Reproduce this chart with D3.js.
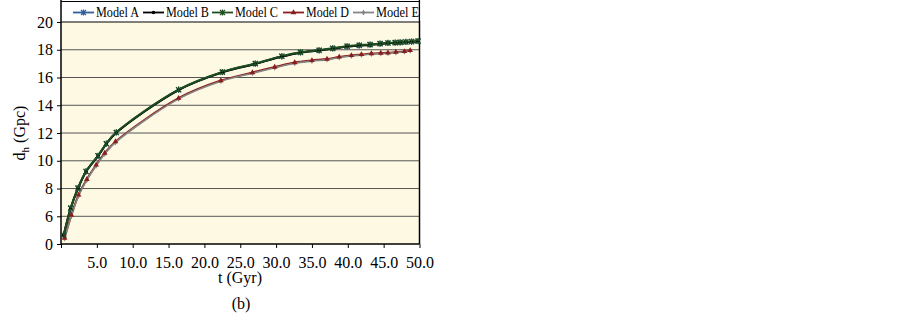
<!DOCTYPE html>
<html><head><meta charset="utf-8">
<script src="https://cdn.jsdelivr.net/npm/d3@7"></script>
<style>body{margin:0;background:#fff;} svg{display:block;} text{font-family:"Liberation Serif","DejaVu Serif",serif;}</style>
</head><body>
<svg id="c" width="902" height="316"></svg>
<script>
// ---- data ----
const seriesNames = ["Model A","Model B","Model C","Model D","Model E"];
const tUpper = [0.38,1.35,2.37,3.49,5.16,6.32,7.71,16.4,22.5,27.1,30.8,33.4,36.0,37.9,39.9,41.6,43.1,44.5,45.6,46.6,47.3,48.1,48.9,49.8];
const tLower = [0.5,1.45,2.45,3.6,4.9,6.1,7.6,16.4,22.3,26.7,29.8,32.6,35.0,37.1,38.8,40.5,41.9,43.3,44.6,45.6,46.7,47.9,48.7];
const modelA = [1.9,6.58,8.02,9.22,10.35,11.22,12.03,15.11,16.38,16.99,17.52,17.80,17.95,18.09,18.24,18.31,18.36,18.43,18.48,18.50,18.52,18.55,18.58,18.61];
const modelB = [1.9,6.57,8.01,9.21,10.34,11.21,12.02,15.10,16.37,16.98,17.51,17.79,17.94,18.08,18.23,18.30,18.35,18.42,18.47,18.49,18.51,18.54,18.57,18.60];
const modelC = [1.95,6.6,8.04,9.24,10.37,11.24,12.05,15.13,16.40,17.01,17.54,17.82,17.97,18.11,18.26,18.33,18.38,18.45,18.50,18.52,18.54,18.57,18.60,18.63];
const modelD = [1.3,6.09,7.54,8.67,9.70,10.55,11.38,14.51,15.78,16.36,16.75,17.08,17.23,17.33,17.48,17.59,17.66,17.73,17.76,17.78,17.83,17.88,17.95];
const modelE = [1.2,6.02,7.48,8.60,9.64,10.49,11.32,14.46,15.73,16.31,16.70,17.03,17.18,17.29,17.44,17.55,17.62,17.69,17.72,17.75,17.80,17.85,17.92];
const xTicks = [0,5,10,15,20,25,30,35,40,45,50];
const yTicks = [0,6,8,10,12,14,16,18,20];

const series = [
  {name:seriesNames[0], t:tUpper, v:modelA, color:"#2f5f98", marker:"star", w:2},
  {name:seriesNames[1], t:tUpper, v:modelB, color:"#000000", marker:"circle", w:2},
  {name:seriesNames[2], t:tUpper, v:modelC, color:"#1e4d1e", marker:"star", w:2},
  {name:seriesNames[3], t:tLower, v:modelD, color:"#8b1c1c", marker:"triangle", w:2},
  {name:seriesNames[4], t:tLower, v:modelE, color:"#858585", marker:"diamond", w:1.6}
];

const svg = d3.select("#c");
const L = 61, R = 419.5, T = 22, B = 244;
const x = d3.scaleLinear().domain([0,50]).range([L,R]);
const y = d3.scaleLinear().domain([0,6,20]).range([B,216.3,T]);
const font = '"Liberation Serif","DejaVu Serif",serif';

// legend region border
svg.append("line").attr("x1",L).attr("x2",R).attr("y1",1.5).attr("y2",1.5).attr("stroke","#000").attr("stroke-width",1.2);
// plot background
svg.append("rect").attr("x",L).attr("y",T).attr("width",R-L).attr("height",B-T).attr("fill","#fef9e2");
// gridlines
svg.append("g").selectAll("line").data(yTicks.filter(d=>d>0)).join("line")
  .attr("x1",L).attr("x2",R).attr("y1",d=>y(d)).attr("y2",d=>y(d))
  .attr("stroke",d=>d===20?"#000":"#555").attr("stroke-width",d=>d===20?1.2:1);

// axes
const yAxis = d3.axisLeft(y).tickValues(yTicks).tickSize(4).tickFormat(d3.format("d"));
const gy = svg.append("g").attr("transform",`translate(${L},0)`).call(yAxis);
gy.select(".domain").remove();
gy.selectAll("text").style("font-family",font).attr("font-size",16).attr("fill","#000").attr("x",-8);
gy.selectAll("line").attr("stroke","#000");

const xAxis = d3.axisBottom(x).tickValues(xTicks).tickSize(4).tickFormat(d=>d===0?"":d3.format(".1f")(d));
const gx = svg.append("g").attr("transform",`translate(0,${B})`).call(xAxis);
gx.select(".domain").remove();
gx.selectAll("text").style("font-family",font).attr("font-size",16).attr("fill","#000").attr("dy","1.05em");
gx.selectAll("line").attr("stroke","#000");

// frame lines
svg.append("line").attr("x1",L).attr("x2",L).attr("y1",0).attr("y2",B).attr("stroke","#000").attr("stroke-width",1.5);
svg.append("line").attr("x1",R).attr("x2",R).attr("y1",0).attr("y2",B).attr("stroke","#000").attr("stroke-width",1.5);
svg.append("line").attr("x1",L).attr("x2",R).attr("y1",B).attr("y2",B).attr("stroke","#000").attr("stroke-width",1.5);

// lines & markers
const line = d3.line().curve(d3.curveCatmullRom.alpha(0.5));
function drawMarker(g, type, color, px, py){
  if(type==="circle"){
    g.append("circle").attr("cx",px).attr("cy",py).attr("r",1.8).attr("fill",color);
  } else if(type==="triangle"){
    g.append("path").attr("d",d3.symbol(d3.symbolTriangle,14)()).attr("transform",`translate(${px},${py})`).attr("fill",color);
  } else if(type==="diamond"){
    g.append("path").attr("d",d3.symbol(d3.symbolDiamond,10)()).attr("transform",`translate(${px},${py})`).attr("fill",color);
  } else {
    g.append("path").attr("d",`M${px-2.5},${py-2.5}L${px+2.5},${py+2.5}M${px-2.5},${py+2.5}L${px+2.5},${py-2.5}M${px},${py-3}L${px},${py+3}`)
      .attr("stroke",color).attr("stroke-width",1.2).attr("fill","none");
  }
}
const lineOrder = [0,1,3,4,2];
const lineLayer = svg.append("g"), markLayer = svg.append("g");
lineOrder.forEach(i=>{
  const s = series[i];
  const pts = s.t.map((t,k)=>[x(t),y(s.v[k])]);
  lineLayer.append("path").attr("d",line(pts)).attr("fill","none").attr("stroke",s.color).attr("stroke-width",s.w);
});
[0,1,4,3,2].forEach(i=>{
  const s = series[i];
  s.t.forEach((t,k)=>drawMarker(markLayer,s.marker,s.color,x(t),y(s.v[k])));
});

// legend
const legX = [73,143,212,283,353];
const lg = svg.append("g");
series.forEach((s,i)=>{
  const lx = legX[i], ly = 12.5;
  lg.append("line").attr("x1",lx).attr("x2",lx+21).attr("y1",ly).attr("y2",ly).attr("stroke",s.color).attr("stroke-width",1.8);
  drawMarker(lg,s.marker,s.color,lx+10.5,ly);
  lg.append("text").attr("x",lx+23).attr("y",17).style("font-family",font).attr("font-size",14)
    .attr("textLength",43).attr("lengthAdjust","spacingAndGlyphs").attr("fill","#000").text(s.name);
});
// clip legend overflow beyond frame
svg.append("rect").attr("x",R+0.8).attr("y",0).attr("width",60).attr("height",21).attr("fill","#fff");

// axis titles
const yl = svg.append("text").attr("transform","translate(25,133) rotate(-90)").attr("text-anchor","middle")
  .style("font-family",font).attr("font-size",16).attr("fill","#000");
yl.append("tspan").text("d");
yl.append("tspan").attr("font-size",11).attr("dy",4).text("h");
yl.append("tspan").attr("dy",-4).text(" (Gpc)");

svg.append("text").attr("x",240).attr("y",283).attr("text-anchor","middle").style("font-family",font).attr("font-size",16).attr("fill","#000").text("t (Gyr)");
svg.append("text").attr("x",241).attr("y",309).attr("text-anchor","middle").style("font-family",font).attr("font-size",16).attr("fill","#000").text("(b)");
</script>
</body></html>
